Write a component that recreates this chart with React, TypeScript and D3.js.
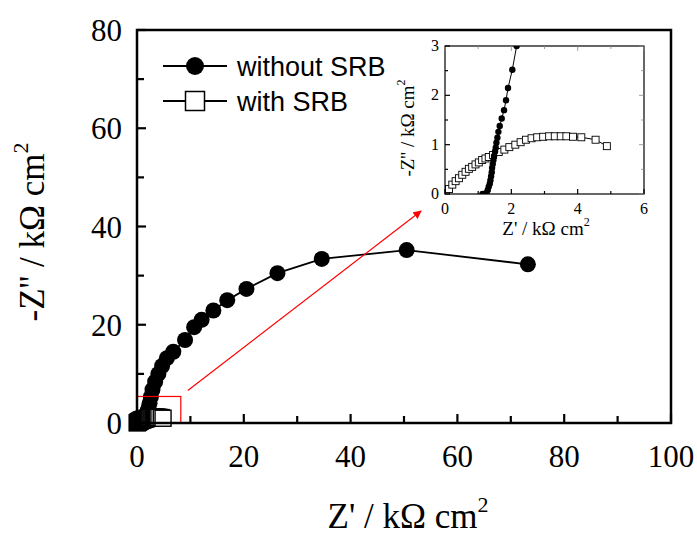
import React from "react";
import * as d3 from "d3";

// ---- data (kΩ cm²) ----
const withoutSRB: [number, number][] = [
  [1.13, 0.0], [1.19, 0.0], [1.25, 0.02], [1.29, 0.08], [1.32, 0.15], [1.35, 0.21],
  [1.37, 0.28], [1.39, 0.36], [1.41, 0.44], [1.42, 0.53], [1.44, 0.61], [1.46, 0.69],
  [1.48, 0.77], [1.51, 0.86], [1.53, 0.94], [1.55, 1.04], [1.58, 1.14], [1.61, 1.26],
  [1.65, 1.38], [1.71, 1.53], [1.78, 1.7], [1.84, 1.9], [1.9, 2.15], [2.03, 2.52],
  [2.16, 3.0], [2.35, 4.0], [2.6, 5.3], [2.9, 6.8], [3.4, 8.4], [4.0, 10.0],
  [4.7, 11.6], [5.6, 13.2], [6.8, 14.5], [9.0, 16.9], [10.7, 19.5], [12.1, 21.0],
  [14.3, 22.9], [16.9, 25.0], [20.5, 27.3], [26.3, 30.5], [34.6, 33.4], [50.5, 35.2],
  [73.2, 32.3],
];

const withSRB: [number, number][] = [
  [0.03, 0.03], [0.12, 0.1], [0.22, 0.19], [0.32, 0.26], [0.42, 0.32], [0.52, 0.39],
  [0.62, 0.45], [0.72, 0.51], [0.82, 0.55], [0.92, 0.6], [1.02, 0.64], [1.12, 0.69],
  [1.22, 0.72], [1.32, 0.75], [1.45, 0.79], [1.62, 0.85], [1.79, 0.9], [1.94, 0.95],
  [2.12, 1.0], [2.28, 1.05], [2.44, 1.1], [2.61, 1.13], [2.78, 1.15], [2.96, 1.16],
  [3.14, 1.17], [3.31, 1.17], [3.49, 1.17], [3.66, 1.17], [3.86, 1.16], [4.11, 1.15],
  [4.54, 1.1], [4.88, 0.97],
];

const mainXTicks = [0, 20, 40, 60, 80, 100];
const mainYTicks = [0, 20, 40, 60, 80];
const insetXTicks = [0, 2, 4, 6];
const insetYTicks = [0, 1, 2, 3];
const legendLabels = ["without SRB", "with SRB"];
// zoom box (data units of main plot) and arrow annotation
const zoomBox = { x0: 0, x1: 8.2, y0: 0, y1: 5.4 };

const W = 697;
const H = 536;
const serif = "'Liberation Serif', 'Times New Roman', serif";
const sans = "'Liberation Sans', Arial, sans-serif";

export default function App() {
  // main scales
  const x = d3.scaleLinear().domain([0, 100]).range([137, 671]);
  const y = d3.scaleLinear().domain([0, 80]).range([423, 30]);
  // inset scales
  const xi = d3.scaleLinear().domain([0, 6]).range([445, 644]);
  const yi = d3.scaleLinear().domain([0, 3]).range([194, 46]);

  const lineMain = d3.line<[number, number]>().x((d) => x(d[0])).y((d) => y(d[1]));
  const lineInset = d3.line<[number, number]>().x((d) => xi(d[0])).y((d) => yi(d[1]));

  const mainXMinor = d3.range(10, 100, 20);
  const mainYMinor = d3.range(10, 80, 20);
  const insetXMinor = [1, 3, 5];
  const insetYMinor = [0.5, 1.5, 2.5];

  const mt = 9;
  const mtm = 7;
  const it = 5;
  const itm = 3;

  const sq = 16;
  const sqi = 7;

  return (
    <svg width={W} height={H} style={{ position: "absolute", left: 0, top: 0, background: "#fff" }}>
      <defs>
        <clipPath id="insetClip">
          <rect x={445} y={46} width={199} height={148} />
        </clipPath>
        <marker id="arrowHead" viewBox="0 0 10 10" refX="9" refY="5" markerWidth="7" markerHeight="7" orient="auto">
          <path d="M0,0 L10,5 L0,10 z" fill="#ff0000" />
        </marker>
      </defs>

      {/* main data: without SRB */}
      <path d={lineMain(withoutSRB) || ""} fill="none" stroke="#000" strokeWidth={1.8} />
      {withoutSRB.map((d, i) => (
        <circle key={"mc" + i} cx={x(d[0])} cy={y(d[1])} r={8} fill="#000" />
      ))}
      {/* main data: with SRB */}
      <path d={lineMain(withSRB) || ""} fill="none" stroke="#000" strokeWidth={1.5} />
      {withSRB.map((d, i) => (
        <rect key={"ms" + i} x={x(d[0]) - sq / 2} y={y(d[1]) - sq / 2} width={sq} height={sq}
          fill="#fff" stroke="#000" strokeWidth={1.4} />
      ))}

      {/* zoom box */}
      <rect x={x(zoomBox.x0)} y={y(zoomBox.y1)} width={x(zoomBox.x1) - x(zoomBox.x0)}
        height={y(zoomBox.y0) - y(zoomBox.y1)} fill="none" stroke="#ff0000" strokeWidth={1.2} />
      {/* arrow */}
      <line x1={x(zoomBox.x1) + 7} y1={y(zoomBox.y1) - 6} x2={421} y2={211}
        stroke="#ff0000" strokeWidth={1.2} markerEnd="url(#arrowHead)" />

      {/* main frame */}
      <rect x={137} y={30} width={534} height={393} fill="none" stroke="#000" strokeWidth={2.5} />
      {/* main ticks */}
      {mainXTicks.map((t) => (
        <line key={"xt" + t} x1={x(t)} x2={x(t)} y1={423} y2={423 - mt} stroke="#000" strokeWidth={2.2} />
      ))}
      {mainXMinor.map((t) => (
        <line key={"xm" + t} x1={x(t)} x2={x(t)} y1={423} y2={423 - mtm} stroke="#000" strokeWidth={2.2} />
      ))}
      {mainYTicks.map((t) => (
        <line key={"yt" + t} x1={137} x2={137 + mt} y1={y(t)} y2={y(t)} stroke="#000" strokeWidth={2.2} />
      ))}
      {mainYMinor.map((t) => (
        <line key={"ym" + t} x1={137} x2={137 + mtm} y1={y(t)} y2={y(t)} stroke="#000" strokeWidth={2.2} />
      ))}
      {/* main tick labels */}
      {mainXTicks.map((t) => (
        <text key={"xl" + t} x={x(t)} y={467} textAnchor="middle" fontFamily={serif} fontSize={31} fill="#000">
          {t}
        </text>
      ))}
      {mainYTicks.map((t) => (
        <text key={"yl" + t} x={122} y={y(t) + 11} textAnchor="end" fontFamily={serif} fontSize={31} fill="#000">
          {t}
        </text>
      ))}
      {/* main axis titles */}
      <text x={408} y={528} textAnchor="middle" fontFamily={serif} fontSize={35} fill="#000">
        Z' / kΩ cm<tspan dy={-16} fontSize={22}>2</tspan>
      </text>
      <text transform="translate(44,232) rotate(-90)" textAnchor="middle" fontFamily={serif} fontSize={35} fill="#000">
        -Z'' / kΩ cm<tspan dy={-16} fontSize={22}>2</tspan>
      </text>

      {/* legend */}
      <line x1={163} x2={227} y1={66} y2={66} stroke="#000" strokeWidth={1.8} />
      <circle cx={195} cy={66} r={9} fill="#000" />
      <text x={237} y={76} fontFamily={sans} fontSize={27} fill="#000">{legendLabels[0]}</text>
      <line x1={163} x2={227} y1={101} y2={101} stroke="#000" strokeWidth={1.8} />
      <rect x={195 - 9.5} y={101 - 9.5} width={19} height={19} fill="#fff" stroke="#000" strokeWidth={1.5} />
      <text x={237} y={111} fontFamily={sans} fontSize={27} fill="#000">{legendLabels[1]}</text>

      {/* inset */}
      <rect x={445} y={46} width={199} height={148} fill="#fff" stroke="none" />
      <g clipPath="url(#insetClip)">
        <path d={lineInset(withSRB) || ""} fill="none" stroke="#000" strokeWidth={1} />
        {withSRB.map((d, i) => (
          <rect key={"is" + i} x={xi(d[0]) - sqi / 2} y={yi(d[1]) - sqi / 2} width={sqi} height={sqi}
            fill="#fff" stroke="#000" strokeWidth={0.9} />
        ))}
        <path d={lineInset(withoutSRB) || ""} fill="none" stroke="#000" strokeWidth={1} />
        {withoutSRB.map((d, i) => (
          <circle key={"ic" + i} cx={xi(d[0])} cy={yi(d[1])} r={3.2} fill="#000" />
        ))}
      </g>
      <rect x={445} y={46} width={199} height={148} fill="none" stroke="#000" strokeWidth={1.2} />
      {insetXTicks.map((t) => (
        <g key={"ixt" + t}>
          <line x1={xi(t)} x2={xi(t)} y1={194} y2={194 - it} stroke="#000" strokeWidth={1.2} />
          <line x1={xi(t)} x2={xi(t)} y1={46} y2={46 + it} stroke="#888" strokeWidth={0.8} />
          <text x={xi(t)} y={214} textAnchor="middle" fontFamily={serif} fontSize={16} fill="#000">{t}</text>
        </g>
      ))}
      {insetXMinor.map((t) => (
        <g key={"ixm" + t}>
          <line x1={xi(t)} x2={xi(t)} y1={194} y2={194 - itm} stroke="#000" strokeWidth={1.2} />
          <line x1={xi(t)} x2={xi(t)} y1={46} y2={46 + itm} stroke="#888" strokeWidth={0.8} />
        </g>
      ))}
      {insetYTicks.map((t) => (
        <g key={"iyt" + t}>
          <line x1={445} x2={445 + it} y1={yi(t)} y2={yi(t)} stroke="#000" strokeWidth={1.2} />
          <line x1={644} x2={644 - it} y1={yi(t)} y2={yi(t)} stroke="#888" strokeWidth={0.8} />
          <text x={439} y={yi(t) + 5} textAnchor="end" fontFamily={serif} fontSize={16} fill="#000">{t}</text>
        </g>
      ))}
      {insetYMinor.map((t) => (
        <g key={"iym" + t}>
          <line x1={445} x2={445 + itm} y1={yi(t)} y2={yi(t)} stroke="#000" strokeWidth={1.2} />
          <line x1={644} x2={644 - itm} y1={yi(t)} y2={yi(t)} stroke="#888" strokeWidth={0.8} />
        </g>
      ))}
      <text x={546} y={235} textAnchor="middle" fontFamily={serif} fontSize={19} fill="#000">
        Z' / kΩ cm<tspan dy={-9} fontSize={12}>2</tspan>
      </text>
      <text transform="translate(414,128) rotate(-90)" textAnchor="middle" fontFamily={serif} fontSize={19} fill="#000">
        -Z'' / kΩ cm<tspan dy={-9} fontSize={12}>2</tspan>
      </text>
    </svg>
  );
}
